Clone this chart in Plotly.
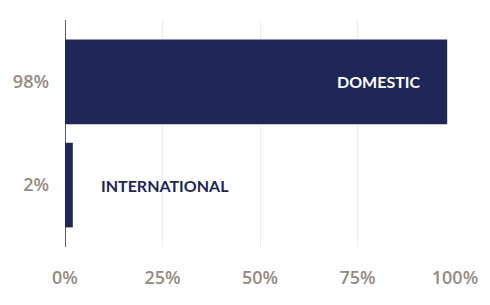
import plotly.graph_objects as go

# Share of traffic by type
categories = ["INTERNATIONAL", "DOMESTIC"]
shares = [2, 98]
tick_labels = ["2%", "98%"]
x_ticks = [0, 25, 50, 75, 100]
x_tick_labels = ["0%", "25%", "50%", "75%", "100%"]

NAVY = "#1e2757"
TICK_GREY = "#968a83"
GRID = "#e9eff6"

positions = list(range(len(categories)))

fig = go.Figure(
    go.Bar(
        x=shares,
        y=positions,
        orientation="h",
        width=0.82,
        marker=dict(color=NAVY, line=dict(width=0)),
        hoverinfo="skip",
    )
)

# Category names written next to / inside each bar
fig.add_annotation(x=shares[1] - 6.3, y=positions[1], text="<b>" + categories[1] + "</b>",
                   xanchor="right", yanchor="middle", showarrow=False,
                   font=dict(family="Lato", size=16, color="white"))
fig.add_annotation(x=8.7, y=positions[0], text="<b>" + categories[0] + "</b>",
                   xanchor="left", yanchor="middle", showarrow=False,
                   font=dict(family="Lato", size=16, color=NAVY))

tick_font = dict(family="Open Sans", size=18, color=TICK_GREY, weight=600)

fig.update_layout(
    width=490,
    height=305,
    margin=dict(l=65, r=32, t=20, b=58),
    paper_bgcolor="white",
    plot_bgcolor="white",
    showlegend=False,
    font=dict(family="Lato", color=TICK_GREY),
)

fig.update_xaxes(
    range=[0, 100],
    tickvals=x_ticks,
    ticktext=x_tick_labels,
    showgrid=True,
    gridcolor=GRID,
    gridwidth=1,
    zeroline=False,
    showline=False,
    ticks="",
    ticklabelstandoff=18,
    tickfont=tick_font,
    fixedrange=True,
)

fig.update_yaxes(
    range=[-0.6, 1.6],
    tickvals=positions,
    ticktext=tick_labels,
    showgrid=False,
    zeroline=False,
    showline=False,
    ticks="",
    ticklabelstandoff=15,
    tickfont=tick_font,
    fixedrange=True,
)

# Baseline at 0%
fig.add_shape(type="line", xref="x", yref="paper", x0=0, x1=0, y0=0, y1=1,
              line=dict(color=NAVY, width=1.5))

fig.write_html("out.html")
